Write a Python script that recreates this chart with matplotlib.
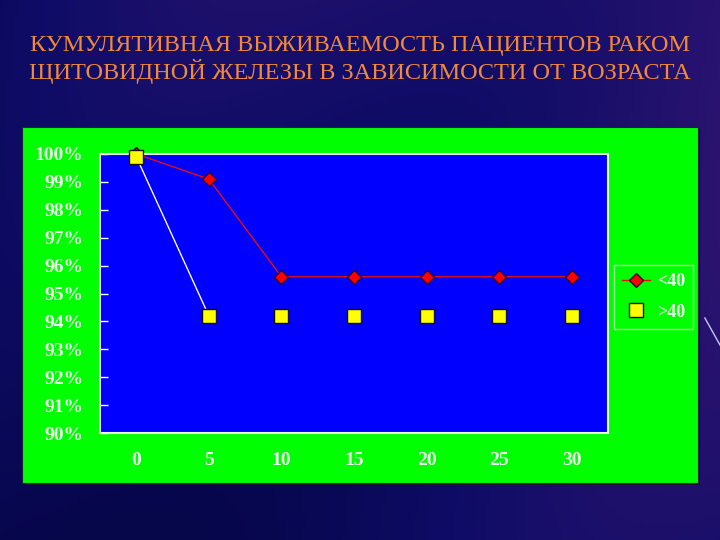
import numpy as np
import matplotlib
matplotlib.use("Agg")
import matplotlib.pyplot as plt
from matplotlib.patches import Rectangle

# данные: кумулятивная выживаемость по годам
years = ["0", "5", "10", "15", "20", "25", "30"]
young = [100.0, 99.1, 95.6, 95.6, 95.6, 95.6, 95.6]   # <40
old = [99.9, 94.2, 94.2, 94.2, 94.2, 94.2, 94.2]      # >40
ytick_vals = [90, 91, 92, 93, 94, 95, 96, 97, 98, 99, 100]
title = "КУМУЛЯТИВНАЯ ВЫЖИВАЕМОСТЬ ПАЦИЕНТОВ РАКОМ\nЩИТОВИДНОЙ ЖЕЛЕЗЫ В ЗАВИСИМОСТИ ОТ ВОЗРАСТА"

W, H = 720, 540
fig = plt.figure(figsize=(7.2, 5.4), dpi=100)
fig.patch.set_facecolor("#0b0b58")

# фон слайда - темно-синий градиент
bg = fig.add_axes([0, 0, 1, 1])
gx, gy = np.meshgrid(np.linspace(0, 1, 200), np.linspace(0, 1, 150))
grad = 0.5 * gx + 0.3 * (1 - gy) + 0.15 * np.sin(6 * gx + 3 * gy)
bg.imshow(grad, cmap=matplotlib.colors.LinearSegmentedColormap.from_list(
    "bgc", ["#06064a", "#0e0c66", "#2a1470"]), extent=[0, 1, 0, 1],
    aspect="auto", origin="upper")
bg.plot([0.979, 1.0], [1 - 318 / H, 1 - 345 / H], color="#c8c8f0", lw=1)
bg.set_xlim(0, 1)
bg.set_ylim(0, 1)
bg.axis("off")

# зеленая подложка диаграммы
bg.add_patch(Rectangle((24 / W, 1 - 485 / H), 676 / W, 356 / H,
                       facecolor="#101030", edgecolor="none"))
bg.add_patch(Rectangle((22 / W, 1 - 483 / H), 676 / W, 356 / H,
                       facecolor="#00ff00", edgecolor="#202040", lw=0.8))

fig.text(0.5, 1 - 59 / H, title, ha="center", va="center",
         fontsize=17.5, color="#f2883a", family="Liberation Serif",
         linespacing=1.15)

ax = fig.add_axes([100 / W, 1 - 433 / H, 508 / W, 279 / H])
ax.set_facecolor("#0000ff")
x = np.arange(len(years))

ax.plot(x, young, color="#e01010", lw=1, marker="D", ms=7,
        mfc="#ff0000", mec="#300030", mew=1, label="<40", clip_on=False, zorder=3)
ax.plot(x[:2], old[:2], color="#ffffe0", lw=1, zorder=2, clip_on=False)
ax.plot(x, old, ls="none", marker="s", ms=10, mfc="#ffff00", mec="#101010",
        mew=1, label=">40", clip_on=False, zorder=4)

ax.set_xlim(-0.5, len(years) - 0.5)
ax.set_ylim(90, 100)
ax.set_xticks(x)
ax.set_xticklabels(years)
ax.set_yticks(ytick_vals)
ax.set_yticklabels([f"{v}%" for v in ytick_vals])
for s in ax.spines.values():
    s.set_color("#e8ffe8")
    s.set_linewidth(1.5)
ax.tick_params(axis="y", direction="in", length=6, color="#ffffff", width=1,
               pad=12)
ax.tick_params(axis="x", length=0, pad=14)
for lab in ax.get_xticklabels() + ax.get_yticklabels():
    lab.set_family("Liberation Serif")
    lab.set_fontweight("bold")
    lab.set_fontsize(14)
    lab.set_color("#f0fff0")

leg = ax.legend(loc="upper right", bbox_to_anchor=(593 / 508, 168 / 279),
                frameon=True, fancybox=False, handlelength=1.5,
                handletextpad=0.4, borderpad=0.45,
                prop={"family": "Liberation Serif", "weight": "bold", "size": 13},
                borderaxespad=0, labelspacing=0.75)
leg.get_frame().set_facecolor("#00ff00")
leg.get_frame().set_edgecolor("#c8ffc8")
for t in leg.get_texts():
    t.set_color("#f0fff0")

fig.savefig("out.png", dpi=100, facecolor=fig.get_facecolor())
